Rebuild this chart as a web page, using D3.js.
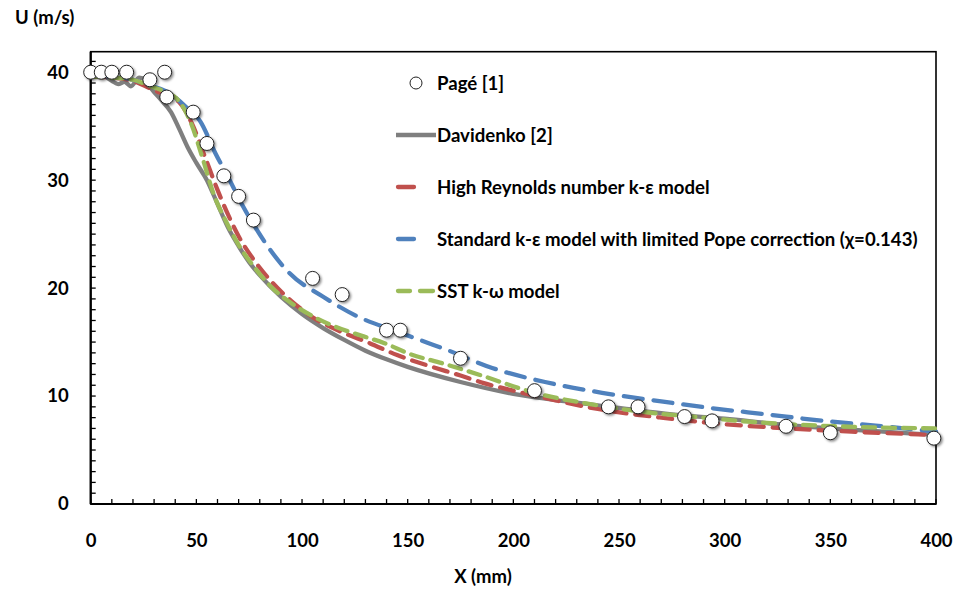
<!DOCTYPE html>
<html><head><meta charset="utf-8">
<script src="https://cdn.jsdelivr.net/npm/d3@7"></script>
<style>
body{margin:0;background:#fff;}
text{font-family:Lato,"Open Sans",sans-serif;font-weight:700;fill:#000;}
</style></head>
<body><svg id="c" width="956" height="589"></svg>
<script>
// ---- data ----
const pageX = [0,5,10,17,28,35,36,48.5,55,63,70,77,105,119,140,146.5,175,210,245,259,281,294,329,350,399];
const pageU = [40,40,40,40,39.3,40,37.7,36.3,33.4,30.4,28.5,26.3,20.9,19.4,16.1,16.1,13.5,10.5,9.0,9.0,8.1,7.7,7.2,6.6,6.1];

const davX = [0,5,10,13,16,19,23,26,29,33,38,42,46,50,55,60,65,70,75,80,90,100,110,120,130,140,150,175,200,225,250,275,300,325,350,375,400];
const davU = [40,39.8,39.2,38.9,39.1,38.7,39.5,39.3,38.4,37.5,36.3,34.7,33.0,31.6,30.0,27.8,25.6,23.9,22.4,21.2,19.2,17.6,16.3,15.2,14.2,13.4,12.7,11.3,10.2,9.5,8.9,8.3,7.9,7.4,7.0,6.7,6.4];

const hreX = [0,10,20,27,35,42,48,54,60,65,70,78,86,95,105,118,132,145,160,175,186,200,220,240,270,300,330,360,400];
const hreU = [39.6,39.5,39.2,38.6,37.9,37.2,35.2,32.2,29.1,26.8,24.8,22.4,20.5,18.8,17.3,16.0,14.9,13.8,12.8,11.9,11.2,10.5,9.6,8.8,8.0,7.4,7.0,6.7,6.4];

const popeX = [0,10,20,27,35,39,45,52,59,65,72,78,84,94,110,126,146,167,190,215,242,270,293,320,347,375,400];
const popeU = [39.7,39.6,39.3,38.8,38.3,37.8,36.8,35.4,32.5,30.3,27.6,25.6,23.8,21.4,19.2,17.4,15.9,14.4,12.6,11.3,10.3,9.5,8.9,8.3,7.7,7.2,6.7];

const sstX = [0,10,20,27,35,41,47,53,58,64,70,78,86,95,105,116,128,139,151,167,185,210,235,263,290,313,340,370,400];
const sstU = [39.6,39.5,39.3,38.8,38.2,37.5,35.5,32.0,28.8,26.2,24.0,21.8,20.0,18.6,17.4,16.4,15.6,14.9,13.9,13.0,11.9,10.3,9.3,8.5,8.0,7.6,7.3,7.1,7.0];

const xTicks = [0,50,100,150,200,250,300,350,400];
const yTicks = [0,10,20,30,40];
const legendLabels = ["Pagé [1]","Davidenko [2]","High Reynolds number k-ε model","Standard k-ε model with limited Pope correction (χ=0.143)","SST k-ω model"];

// ---- chart ----
const svg = d3.select("#c");
const L=90.7, R=936, T=51.7, B=504;
const x = d3.scaleLinear().domain([0,400]).range([L,R]);
const y = d3.scaleLinear().domain([0,41.9]).range([B,T]);

const defs = svg.append("defs");
const f = defs.append("filter").attr("id","sh").attr("x","-50%").attr("y","-50%").attr("width","200%").attr("height","200%");
f.append("feDropShadow").attr("dx",1.5).attr("dy",1.5).attr("stdDeviation",1.2).attr("flood-color","#000").attr("flood-opacity",0.45);

// minor ticks inside
const g = svg.append("g");
d3.range(0,401,10).forEach(v=>{
  g.append("line").attr("x1",x(v)).attr("x2",x(v)).attr("y1",B).attr("y2",B-5).attr("stroke","#000").attr("stroke-width",1.3);
});
d3.range(0,42,1).forEach(v=>{
  g.append("line").attr("x1",L).attr("x2",L+5).attr("y1",y(v)).attr("y2",y(v)).attr("stroke","#000").attr("stroke-width",1.3);
});

// frame
svg.append("rect").attr("x",L).attr("y",T).attr("width",R-L).attr("height",B-T)
  .attr("fill","none").attr("stroke","#000").attr("stroke-width",1.6);
svg.append("line").attr("x1",L).attr("x2",L).attr("y1",T).attr("y2",B).attr("stroke","#000").attr("stroke-width",2.2);
svg.append("line").attr("x1",L).attr("x2",R).attr("y1",B).attr("y2",B).attr("stroke","#000").attr("stroke-width",2.2);

// tick labels via axes
const xa = svg.append("g").attr("transform",`translate(0,${B})`)
  .call(d3.axisBottom(x).tickValues(xTicks).tickSize(0).tickPadding(30).tickFormat(d3.format("d")));
xa.select(".domain").remove();
xa.selectAll("text").attr("font-size",18.5).style("font-family","Lato").style("font-weight",700);
const ya = svg.append("g").attr("transform",`translate(${L},0)`)
  .call(d3.axisLeft(y).tickValues(yTicks).tickSize(0).tickPadding(22).tickFormat(d3.format("d")));
ya.select(".domain").remove();
ya.selectAll("text").attr("font-size",18.5).style("font-family","Lato").style("font-weight",700);

svg.append("text").attr("x",15).attr("y",24).attr("font-size",18.5).text("U (m/s)");
svg.append("text").attr("x",483).attr("y",583).attr("font-size",18.5).attr("text-anchor","middle").text("X (mm)");

// lines
const line = d3.line().x(d=>x(d[0])).y(d=>y(d[1])).curve(d3.curveMonotoneX);
const zip = (a,b)=>a.map((v,i)=>[v,b[i]]);
const series = [
  {xs:davX, us:davU, color:"#7f7f7f", dash:null},
  {xs:hreX, us:hreU, color:"#c0504d", dash:"14,9"},
  {xs:sstX, us:sstU, color:"#9bbb59", dash:"12,8"},
  {xs:popeX, us:popeU, color:"#4f81bd", dash:"19,11"}
];
[series[0],series[1],series[3],series[2]].forEach(s=>{
  svg.append("path").datum(zip(s.xs,s.us)).attr("d",line)
    .attr("fill","none").attr("stroke",s.color).attr("stroke-width",4.3)
    .attr("stroke-linecap",s.dash?"round":"butt").attr("stroke-dasharray",s.dash);
});

// points
svg.append("g").selectAll("circle").data(zip(pageX,pageU)).join("circle")
  .attr("cx",d=>x(d[0])).attr("cy",d=>y(d[1])).attr("r",7)
  .attr("fill","#fff").attr("stroke","#222").attr("stroke-width",1).attr("filter","url(#sh)");

// legend
const lg = svg.append("g");
const rowY = [83,135,187,239,291];
lg.append("circle").attr("cx",416).attr("cy",rowY[0]).attr("r",6).attr("fill","#fff").attr("stroke","#222").attr("stroke-width",1);
lg.append("line").attr("x1",396).attr("x2",436).attr("y1",rowY[1]).attr("y2",rowY[1]).attr("stroke","#7f7f7f").attr("stroke-width",4.3);
lg.append("line").attr("x1",398).attr("x2",414).attr("y1",rowY[2]).attr("y2",rowY[2]).attr("stroke","#c0504d").attr("stroke-width",4.3).attr("stroke-linecap","round");
lg.append("line").attr("x1",398).attr("x2",414).attr("y1",rowY[3]).attr("y2",rowY[3]).attr("stroke","#4f81bd").attr("stroke-width",4.3).attr("stroke-linecap","round");
lg.append("line").attr("x1",398).attr("x2",410).attr("y1",rowY[4]).attr("y2",rowY[4]).attr("stroke","#9bbb59").attr("stroke-width",4.3).attr("stroke-linecap","round");
lg.append("line").attr("x1",420).attr("x2",433).attr("y1",rowY[4]).attr("y2",rowY[4]).attr("stroke","#9bbb59").attr("stroke-width",4.3).attr("stroke-linecap","round");
legendLabels.forEach((t,i)=>{
  lg.append("text").attr("x",437).attr("y",rowY[i]).attr("dy","0.35em").attr("font-size",18.6).text(t);
});
</script></body></html>
